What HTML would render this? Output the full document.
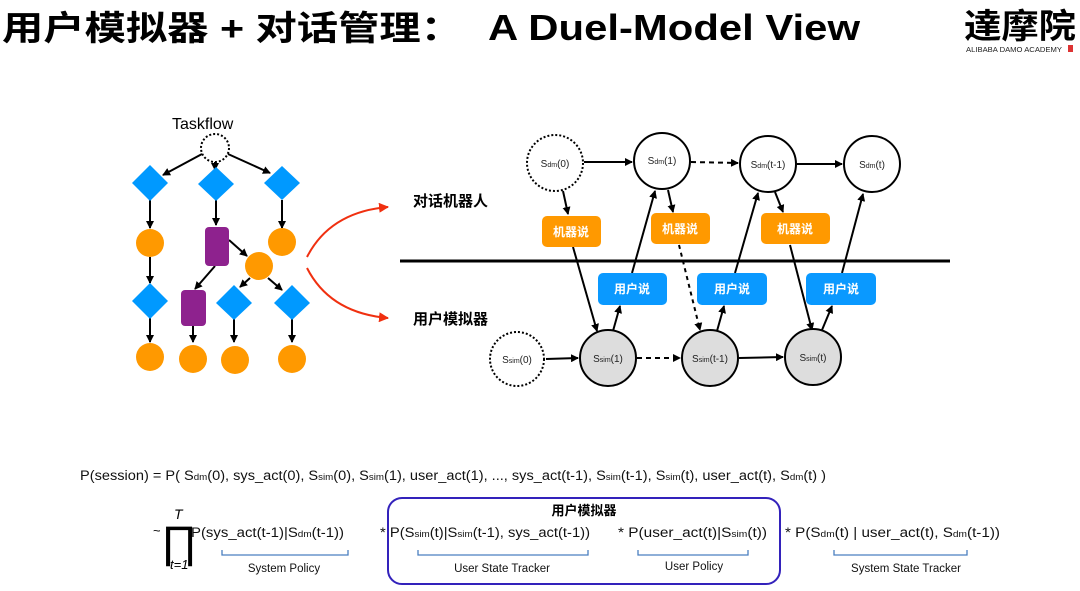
<!DOCTYPE html>
<html><head><meta charset="utf-8"><style>
body{margin:0;background:#fff;width:1080px;height:591px;overflow:hidden}
svg{display:block}
text{font-family:"Liberation Sans","Noto Sans CJK SC",sans-serif}
.s{font-size:10px}
.f{font-size:13.5px;fill:#111}
</style></head><body>
<svg width="1080" height="591" viewBox="0 0 1080 591">
<defs>
<marker id="a" markerWidth="8" markerHeight="8" refX="7" refY="4" orient="auto" markerUnits="userSpaceOnUse"><path d="M0,0 L8,4 L0,8z" fill="#000"/></marker>
<marker id="r" markerWidth="10" markerHeight="10" refX="9" refY="5" orient="auto" markerUnits="userSpaceOnUse"><path d="M0,0 L10,5 L0,10z" fill="#f03010"/></marker>
</defs>
<text x="2" y="40" font-size="34" font-weight="bold" fill="#000" textLength="460" lengthAdjust="spacingAndGlyphs">用户模拟器 + 对话管理：</text>
<text x="488" y="40" font-size="36" font-weight="bold" fill="#000" textLength="372" lengthAdjust="spacingAndGlyphs">A Duel-Model View</text>
<text x="964" y="38" font-size="34" font-weight="bold" font-family="Noto Serif CJK SC,serif" fill="#000" textLength="112" lengthAdjust="spacingAndGlyphs">達摩院</text>
<text x="966" y="52" font-size="7" fill="#222" textLength="96" lengthAdjust="spacingAndGlyphs">ALIBABA DAMO ACADEMY</text>
<rect x="1068" y="45" width="5" height="7" fill="#d33"/>

<!-- taskflow -->
<text x="172" y="129" font-size="16" fill="#000">Taskflow</text>
<circle cx="215" cy="148" r="14" fill="none" stroke="#000" stroke-width="2" stroke-dasharray="2,2"/>
<g stroke="#000" stroke-width="2" fill="none" marker-end="url(#a)">
<line x1="202" y1="154" x2="163" y2="175"/><line x1="215" y1="162" x2="215" y2="170"/><line x1="228" y1="154" x2="270" y2="173"/>
<line x1="150" y1="200" x2="150" y2="228"/><line x1="216" y1="200" x2="216" y2="225"/><line x1="282" y1="200" x2="282" y2="228"/>
<line x1="150" y1="257" x2="150" y2="283"/>
<line x1="229" y1="240" x2="247" y2="256"/>
<line x1="215" y1="266" x2="195" y2="289"/>
<line x1="250" y1="278" x2="240" y2="287"/><line x1="268" y1="278" x2="282" y2="290"/>
<line x1="150" y1="318" x2="150" y2="342"/><line x1="193" y1="326" x2="193" y2="342"/><line x1="234" y1="318" x2="234" y2="342"/><line x1="292" y1="318" x2="292" y2="342"/>
</g>
<g fill="#0099ff">
<path d="M150,165 L168,183 L150,201 L132,183z"/><path d="M216,167 L234,184 L216,201 L198,184z"/><path d="M282,166 L300,183 L282,200 L264,183z"/>
<path d="M150,283 L168,301 L150,319 L132,301z"/><path d="M234,285 L252,303 L234,320 L216,303z"/><path d="M292,285 L310,303 L292,320 L274,303z"/>
</g>
<g fill="#ff9900">
<circle cx="150" cy="243" r="14"/><circle cx="282" cy="242" r="14"/><circle cx="259" cy="266" r="14"/>
<circle cx="150" cy="357" r="14"/><circle cx="193" cy="359" r="14"/><circle cx="235" cy="360" r="14"/><circle cx="292" cy="359" r="14"/>
</g>
<g fill="#8e228e"><rect x="205" y="227" width="24" height="39" rx="4"/><rect x="181" y="290" width="25" height="36" rx="4"/></g>
<path d="M307,257 Q330,212 388,207" stroke="#f03010" stroke-width="2" fill="none" marker-end="url(#r)"/>
<path d="M307,268 Q330,313 388,318" stroke="#f03010" stroke-width="2" fill="none" marker-end="url(#r)"/>

<!-- dual model -->
<text x="413" y="206" font-size="15" font-weight="bold" fill="#000">对话机器人</text>
<text x="413" y="324" font-size="15" font-weight="bold" fill="#000">用户模拟器</text>
<line x1="400" y1="261" x2="950" y2="261" stroke="#000" stroke-width="3"/>
<g stroke="#000" stroke-width="2" fill="none" marker-end="url(#a)">
<line x1="584" y1="162" x2="632" y2="162"/>
<line x1="691" y1="162" x2="738" y2="163" stroke-dasharray="5,4"/>
<line x1="797" y1="164" x2="842" y2="164"/>
<line x1="546" y1="359" x2="578" y2="358"/>
<line x1="637" y1="358" x2="680" y2="358" stroke-dasharray="5,4"/>
<line x1="739" y1="358" x2="783" y2="357"/>
<line x1="563" y1="191" x2="568" y2="214"/>
<line x1="573" y1="247" x2="597" y2="331"/>
<line x1="613" y1="331" x2="620" y2="306"/>
<line x1="632" y1="273" x2="655" y2="191"/>
<line x1="668" y1="190" x2="673" y2="212"/>
<line x1="679" y1="245" x2="700" y2="330" stroke-dasharray="4,4"/>
<line x1="717" y1="331" x2="724" y2="306"/>
<line x1="735" y1="273" x2="758" y2="193"/>
<line x1="775" y1="192" x2="783" y2="212"/>
<line x1="790" y1="245" x2="812" y2="330"/>
<line x1="822" y1="330" x2="832" y2="306"/>
<line x1="842" y1="273" x2="863" y2="194"/>
</g>
<circle cx="555" cy="163" r="28" fill="#fff" stroke="#000" stroke-width="2" stroke-dasharray="2,2"/>
<circle cx="662" cy="161" r="28" fill="#fff" stroke="#000" stroke-width="2"/>
<circle cx="768" cy="164" r="28" fill="#fff" stroke="#000" stroke-width="2"/>
<circle cx="872" cy="164" r="28" fill="#fff" stroke="#000" stroke-width="2"/>
<circle cx="517" cy="359" r="27" fill="#fff" stroke="#000" stroke-width="2" stroke-dasharray="2,2"/>
<circle cx="608" cy="358" r="28" fill="#ddd" stroke="#000" stroke-width="2"/>
<circle cx="710" cy="358" r="28" fill="#ddd" stroke="#000" stroke-width="2"/>
<circle cx="813" cy="357" r="28" fill="#ddd" stroke="#000" stroke-width="2"/>
<g class="s" text-anchor="middle" fill="#222">
<text x="555" y="167">S<tspan font-size="7">dm</tspan>(0)</text>
<text x="662" y="164">S<tspan font-size="7">dm</tspan>(1)</text>
<text x="768" y="168">S<tspan font-size="7">dm</tspan>(t-1)</text>
<text x="872" y="168">S<tspan font-size="7">dm</tspan>(t)</text>
<text x="517" y="363">S<tspan font-size="7">sim</tspan>(0)</text>
<text x="608" y="362">S<tspan font-size="7">sim</tspan>(1)</text>
<text x="710" y="362">S<tspan font-size="7">sim</tspan>(t-1)</text>
<text x="813" y="361">S<tspan font-size="7">sim</tspan>(t)</text>
</g>
<g fill="#ff9900"><rect x="542" y="216" width="59" height="31" rx="5"/><rect x="651" y="213" width="59" height="31" rx="5"/><rect x="761" y="213" width="69" height="31" rx="5"/></g>
<g fill="#0a99ff"><rect x="598" y="273" width="69" height="32" rx="5"/><rect x="697" y="273" width="70" height="32" rx="5"/><rect x="806" y="273" width="70" height="32" rx="5"/></g>
<g font-size="12" fill="#fff" text-anchor="middle" font-weight="bold">
<text x="571" y="236">机器说</text><text x="680" y="233">机器说</text><text x="795" y="233">机器说</text>
<text x="632" y="293">用户说</text><text x="732" y="293">用户说</text><text x="841" y="293">用户说</text>
</g>

<!-- formula -->
<text x="80" y="480" class="f" textLength="746" lengthAdjust="spacingAndGlyphs">P(session) =  P( S<tspan font-size="9">dm</tspan>(0), sys_act(0), S<tspan font-size="9">sim</tspan>(0), S<tspan font-size="9">sim</tspan>(1), user_act(1),  ...,  sys_act(t-1), S<tspan font-size="9">sim</tspan>(t-1), S<tspan font-size="9">sim</tspan>(t), user_act(t), S<tspan font-size="9">dm</tspan>(t) )</text>
<rect x="388" y="498" width="392" height="86" rx="14" fill="none" stroke="#3322bb" stroke-width="2"/>
<text x="584" y="515" font-size="13" font-weight="bold" text-anchor="middle">用户模拟器</text>
<text x="153" y="535" font-size="13">~</text>
<text x="174" y="519" font-size="14" font-style="italic" font-family="Liberation Serif,serif">T</text>
<text x="161" y="557" font-size="44" font-family="Liberation Serif,serif">∏</text>
<text x="170" y="569" font-size="13" font-style="italic" font-family="Liberation Serif,serif">t=1</text>
<text x="191" y="537" class="f" textLength="153" lengthAdjust="spacingAndGlyphs">P(sys_act(t-1)|S<tspan font-size="9">dm</tspan>(t-1))</text>
<text x="380" y="537" class="f" textLength="210" lengthAdjust="spacingAndGlyphs">* P(S<tspan font-size="9">sim</tspan>(t)|S<tspan font-size="9">sim</tspan>(t-1), sys_act(t-1))</text>
<text x="618" y="537" class="f" textLength="149" lengthAdjust="spacingAndGlyphs">* P(user_act(t)|S<tspan font-size="9">sim</tspan>(t))</text>
<text x="785" y="537" class="f" textLength="215" lengthAdjust="spacingAndGlyphs">* P(S<tspan font-size="9">dm</tspan>(t) | user_act(t),  S<tspan font-size="9">dm</tspan>(t-1))</text>
<g stroke="#4a7fc0" stroke-width="1.3" fill="none">
<path d="M222,550 V555 H348 V550"/><path d="M418,550 V555 H588 V550"/><path d="M638,550 V555 H748 V550"/><path d="M834,550 V555 H967 V550"/>
</g>
<g font-size="11.5" text-anchor="middle" fill="#111">
<text x="284" y="572">System Policy</text><text x="502" y="572">User State Tracker</text><text x="694" y="570">User Policy</text><text x="906" y="572">System State Tracker</text>
</g>
</svg>
</body></html>
